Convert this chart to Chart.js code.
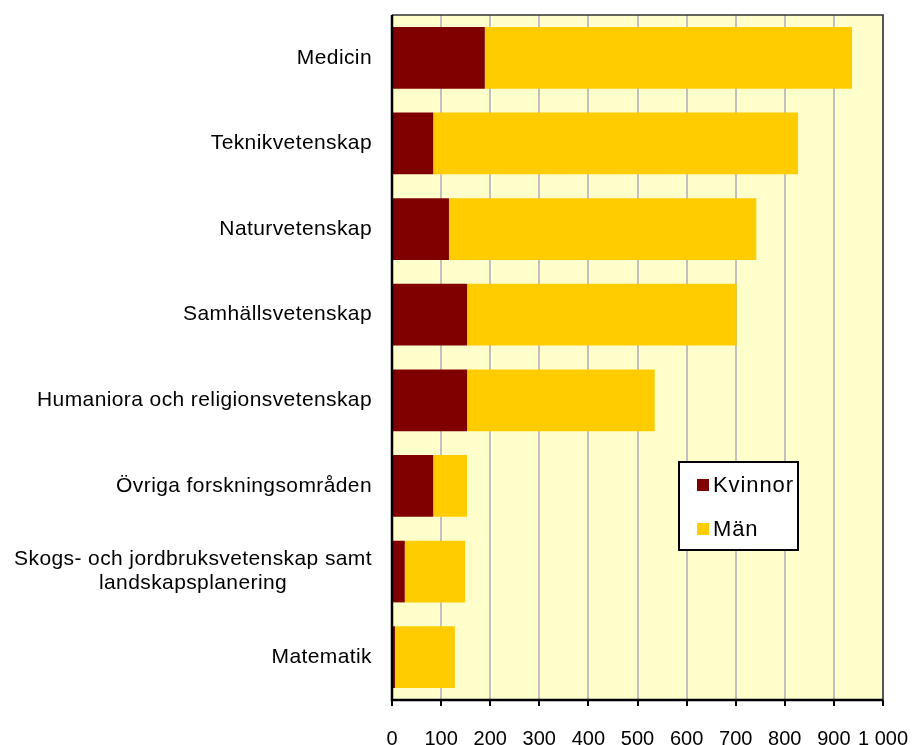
<!DOCTYPE html>
<html>
<head>
<meta charset="utf-8">
<script src="https://cdn.jsdelivr.net/npm/chart.js@4"></script>
<style>
  html, body { margin: 0; padding: 0; background: #fff; }
  #wrap { width: 913px; height: 745px; }
</style>
</head>
<body>
<div id="wrap"><canvas id="chart" width="913" height="745"></canvas></div>
<script>
// Forskningsområden, antal per kön
const categories = [
    ['Medicin'],
    ['Teknikvetenskap'],
    ['Naturvetenskap'],
    ['Samhällsvetenskap'],
    ['Humaniora och religionsvetenskap'],
    ['Övriga forskningsområden'],
    ['Skogs- och jordbruksvetenskap samt', 'landskapsplanering'],
    ['Matematik']
];
const kvinnor = [189, 84, 116, 153, 153, 84, 26, 6];
const man = [748, 743, 626, 549, 382, 69, 123, 122];
const tickLabels = ['0', '100', '200', '300', '400', '500', '600', '700', '800', '900', '1 000'];

const FONT = '"Liberation Sans", Arial, sans-serif';

// bakgrund, ram, kategorietiketter och förklaring
const decorPlugin = {
    id: 'decor',
    beforeDraw(chart) {
        const { ctx, chartArea: a } = chart;
        ctx.save();
        ctx.fillStyle = '#FFFFCC';
        ctx.fillRect(a.left, a.top, a.right - a.left, a.bottom - a.top);
        ctx.restore();
    },
    afterDraw(chart) {
        const { ctx, chartArea: a } = chart;
        const yScale = chart.scales.y;
        ctx.save();

        // ram runt diagramytan
        ctx.strokeStyle = '#333';
        ctx.lineWidth = 1.5;
        ctx.beginPath();
        ctx.moveTo(a.left, a.top);
        ctx.lineTo(a.right, a.top);
        ctx.lineTo(a.right, a.bottom);
        ctx.stroke();
        ctx.strokeStyle = '#000';
        ctx.lineWidth = 2.5;
        ctx.beginPath();
        ctx.moveTo(a.left, a.top);
        ctx.lineTo(a.left, a.bottom);
        ctx.lineTo(a.right, a.bottom);
        ctx.stroke();

        // kategorietiketter
        ctx.font = '21px ' + FONT;
        ctx.fillStyle = '#000';
        ctx.textBaseline = 'middle';
        ctx.textAlign = 'center';
        if ('letterSpacing' in ctx) ctx.letterSpacing = '0.4px';
        const right = a.left - 20;
        const lineH = 24;
        categories.forEach((lines, i) => {
            const yc = yScale.getPixelForValue(i);
            const maxW = Math.max(...lines.map(l => ctx.measureText(l).width));
            const xc = right - maxW / 2;
            const y0 = yc - (lines.length - 1) * lineH / 2;
            lines.forEach((l, j) => ctx.fillText(l, xc, y0 + j * lineH));
        });

        // förklaring
        const bx = 679, by = 462, bw = 119, bh = 88;
        ctx.fillStyle = '#fff';
        ctx.fillRect(bx, by, bw, bh);
        ctx.strokeStyle = '#000';
        ctx.lineWidth = 2;
        ctx.strokeRect(bx, by, bw, bh);
        ctx.font = '22px ' + FONT;
        if ('letterSpacing' in ctx) ctx.letterSpacing = '0.9px';
        ctx.textAlign = 'left';
        chart.data.datasets.forEach((ds, i) => {
            const yc = by + 23 + i * 44;
            ctx.fillStyle = ds.backgroundColor;
            ctx.fillRect(bx + 18, yc - 6, 12, 12);
            ctx.fillStyle = '#000';
            ctx.fillText(ds.label, bx + 34, yc + 1);
        });
        ctx.restore();
    }
};

new Chart(document.getElementById('chart'), {
    type: 'bar',
    data: {
        labels: categories,
        datasets: [
            { label: 'Kvinnor', data: kvinnor, backgroundColor: '#800000', borderWidth: 0 },
            { label: 'Män', data: man, backgroundColor: '#FFCC00', borderWidth: 0 }
        ]
    },
    options: {
        indexAxis: 'y',
        responsive: false,
        animation: false,
        layout: { padding: { left: 392, top: 15, right: 30, bottom: 0 } },
        datasets: { bar: { barPercentage: 0.72, categoryPercentage: 1 } },
        scales: {
            x: {
                stacked: true,
                min: 0,
                max: 1000,
                afterFit: s => {
                    s.height = 45;
                    s.paddingLeft = 0;
                    s.paddingRight = 0;
                },
                afterBuildTicks: s => {
                    s.ticks = tickLabels.map((t, i) => ({ value: i * 100 }));
                },
                grid: {
                    color: '#C0C0C0',
                    lineWidth: 2,
                    tickColor: '#000',
                    tickLength: 6,
                    drawTicks: true
                },
                border: { display: false },
                ticks: {
                    color: '#000',
                    font: { family: FONT, size: 20 },
                    padding: 21,
                    maxRotation: 0,
                    autoSkip: false,
                    callback: (v, i) => tickLabels[i]
                }
            },
            y: {
                stacked: true,
                grid: { display: false },
                border: { display: false },
                ticks: { display: false },
                afterFit: s => { s.width = 0; }
            }
        },
        plugins: {
            legend: { display: false },
            tooltip: { enabled: false }
        }
    },
    plugins: [decorPlugin]
});
</script>
</body>
</html>
